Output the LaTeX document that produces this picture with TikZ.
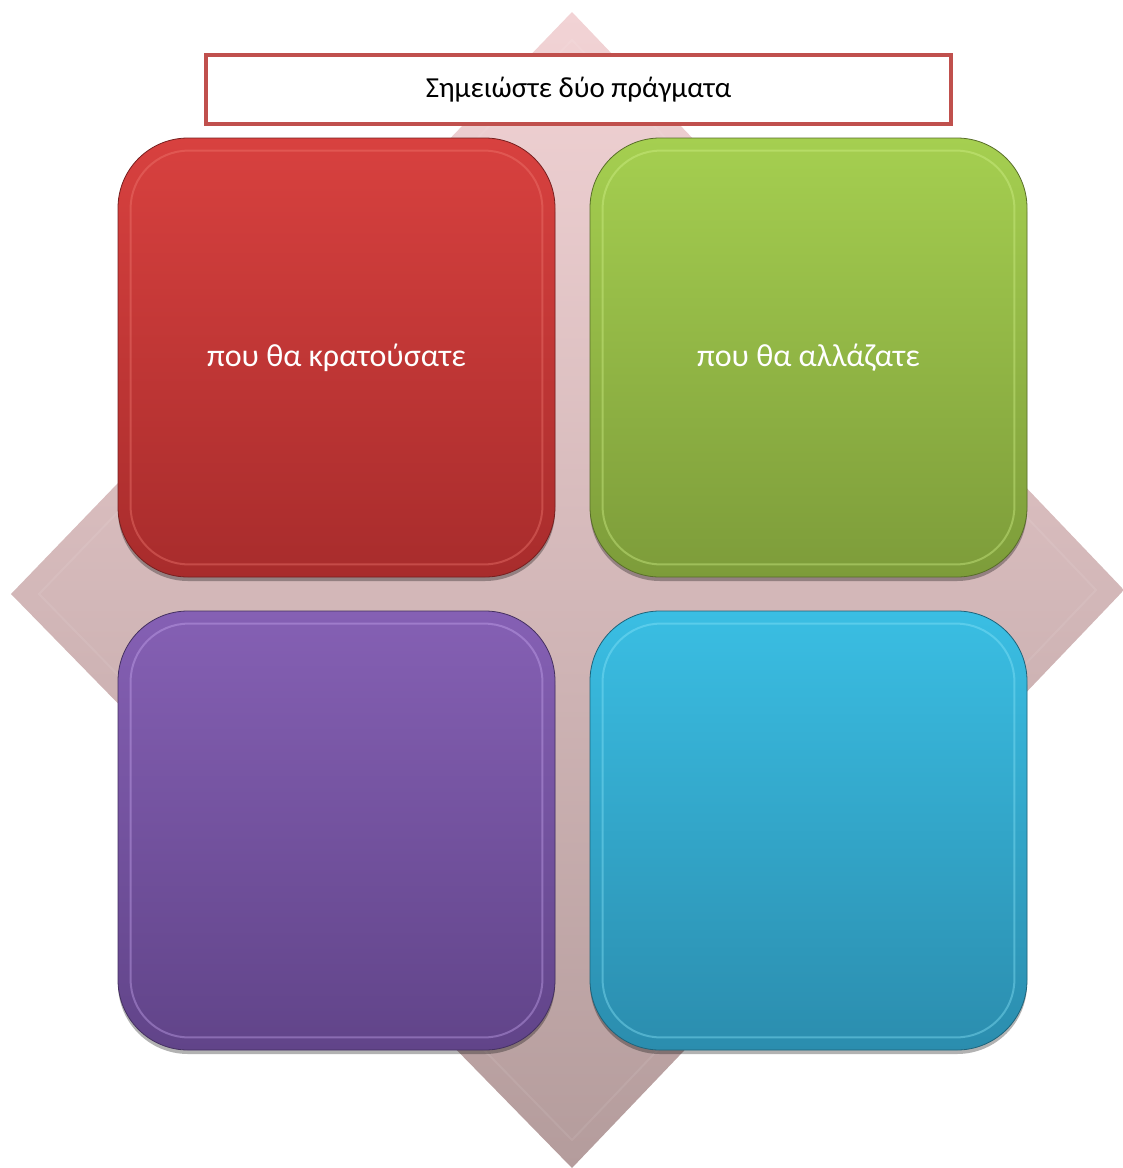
\documentclass[tikz,border=0pt]{standalone}
\usepackage{fontspec}
\setmainfont{Carlito}
\usetikzlibrary{calc,shadows}
\definecolor{titleborder}{HTML}{C0504D}
\definecolor{diatop}{HTML}{F2D3D5}
\definecolor{diabot}{HTML}{B49C9C}
\definecolor{redtop}{HTML}{D8413F}
\definecolor{redbot}{HTML}{A82C2C}
\definecolor{redrim}{HTML}{F07A72}
\definecolor{greentop}{HTML}{A5CF50}
\definecolor{greenbot}{HTML}{7D9C3A}
\definecolor{greenrim}{HTML}{D2F28A}
\definecolor{purpletop}{HTML}{8560B4}
\definecolor{purplebot}{HTML}{614489}
\definecolor{purplerim}{HTML}{C8A8F0}
\definecolor{cyantop}{HTML}{3ABEE3}
\definecolor{cyanbot}{HTML}{2B8DAE}
\definecolor{cyanrim}{HTML}{8AE6FA}
\tikzset{
  quadbox/.style={rounded corners=70pt, minimum width=437pt, minimum height=439pt,
    inner sep=0pt, text=white, font=\fontsize{32}{36}\selectfont,
    drop shadow={shadow xshift=0pt, shadow yshift=-4pt, opacity=0.3, fill=black}},
  rimline/.style={line width=2pt, rounded corners=58pt},
  titlebox/.style={draw=titleborder, line width=4pt, fill=white, minimum width=745pt,
    minimum height=69pt, inner sep=0pt, font=\fontsize{29}{33}\selectfont}
}
\begin{document}
\begin{tikzpicture}[x=1pt,y=-1pt]
\useasboundingbox (0,0) rectangle (1123,1168);
% diamond background
\shade[top color=diatop, bottom color=diabot]
  (572,12) -- (1124,590) -- (572,1168) -- (11,594) -- cycle;
\draw[white, opacity=0.08, line width=2pt]
  (572,40) -- (1096,590) -- (572,1140) -- (39,594) -- cycle;
% title
\node[titlebox] (title) at (578.5,89.5) {Σημειώστε δύο πράγματα};
% quadrants
\node[quadbox, top color=redtop, bottom color=redbot, draw=redbot!70!black, line width=0.8pt]
  (red) at (336.5,357.5) {που θα κρατούσατε};
\node[quadbox, top color=greentop, bottom color=greenbot, draw=greenbot!70!black, line width=0.8pt]
  (green) at (808.5,357.5) {που θα αλλάζατε};
\node[quadbox, top color=purpletop, bottom color=purplebot, draw=purplebot!70!black, line width=0.8pt]
  (purple) at (336.5,830.5) {};
\node[quadbox, top color=cyantop, bottom color=cyanbot, draw=cyanbot!70!black, line width=0.8pt]
  (cyan) at (808.5,830.5) {};
% bevel rims
\foreach \b/\c in {red/redrim, green/greenrim, purple/purplerim, cyan/cyanrim}{
  \draw[rimline, \c, opacity=0.4]
    ($(\b.north west)+(13,13)$) rectangle ($(\b.south east)+(-13,-13)$);
}
\end{tikzpicture}
\end{document}
